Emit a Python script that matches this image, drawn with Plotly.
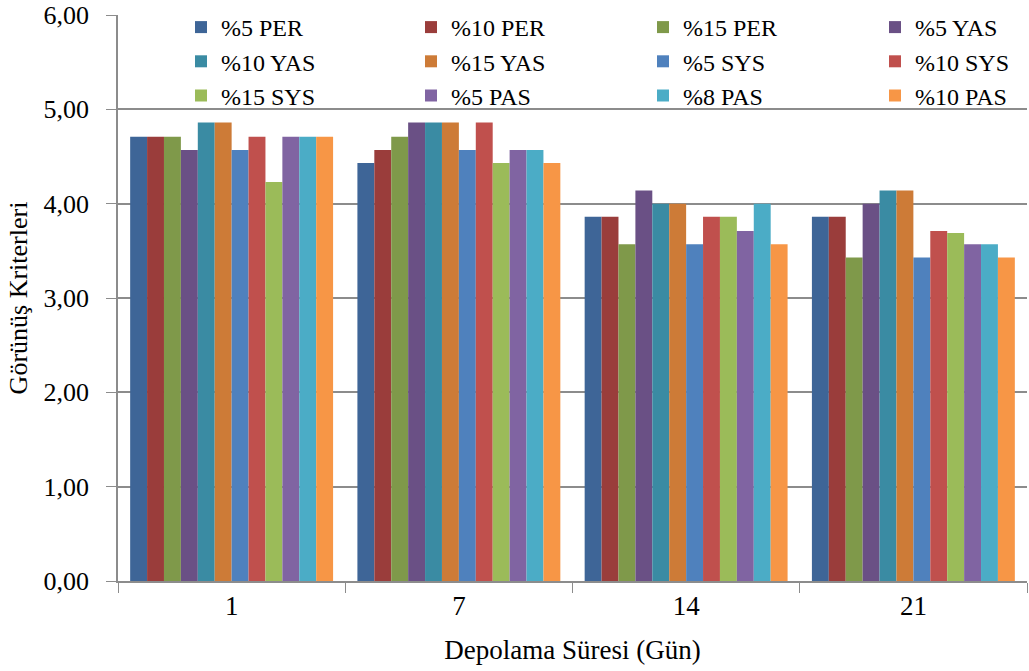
import plotly.graph_objects as go

# Storage days (category axis)
days = ["1", "7", "14", "21"]

# Appearance scores per formulation, one value per storage day
per5 = [4.71, 4.43, 3.86, 3.86]
per10 = [4.71, 4.57, 3.86, 3.86]
per15 = [4.71, 4.71, 3.57, 3.43]
yas5 = [4.57, 4.86, 4.14, 4.00]
yas10 = [4.86, 4.86, 4.00, 4.14]
yas15 = [4.86, 4.86, 4.00, 4.14]
sys5 = [4.57, 4.57, 3.57, 3.43]
sys10 = [4.71, 4.86, 3.86, 3.71]
sys15 = [4.23, 4.43, 3.86, 3.69]
pas5 = [4.71, 4.57, 3.71, 3.57]
pas8 = [4.71, 4.57, 4.00, 3.57]
pas10 = [4.71, 4.43, 3.57, 3.43]

series_names = ["%5 PER", "%10 PER", "%15 PER", "%5 YAS", "%10 YAS", "%15 YAS",
                "%5 SYS", "%10 SYS", "%15 SYS", "%5 PAS", "%8 PAS", "%10 PAS"]
series_values = [per5, per10, per15, yas5, yas10, yas15,
                 sys5, sys10, sys15, pas5, pas8, pas10]
colors = ["#3E6597", "#9A3D3B", "#7F994A", "#6A5085", "#3A8BA3", "#CD7B37",
          "#4F81BD", "#C0504D", "#9BBB59", "#8064A2", "#4BACC6", "#F79646"]

FONT = "Times New Roman, Liberation Serif, serif"
GRID = "#8c8c8c"
W, H = 1029, 671
ML, MR, MT, MB = 0, 2, 0, 90
AXIS_LEFT = 118   # pixel position of the value axis
PLOT_TOP = 15     # pixel position of the top of the value range
LEGEND_COLS = [181, 411, 643, 875]  # left edge of each legend column
N_COLS = len(LEGEND_COLS)

plot_w = W - ML - MR
plot_h = H - MT - MB

fig = go.Figure()
for i, (name, vals, col) in enumerate(zip(series_names, series_values, colors)):
    col_idx = i % N_COLS
    fig.add_trace(go.Bar(
        x=days, y=vals, name=name,
        marker=dict(color=col, line=dict(width=0)),
        legend="legend" if col_idx == 0 else f"legend{col_idx + 1}",
    ))

legend_style = dict(
    orientation="v",
    xanchor="left", yanchor="top",
    y=1 - 5 / plot_h,
    bgcolor="rgba(255,255,255,0)",
    font=dict(family=FONT, size=24),
    tracegroupgap=0,
    traceorder="normal",
)
legends = {}
for k, px in enumerate(LEGEND_COLS):
    key = "legend" if k == 0 else f"legend{k + 1}"
    legends[key] = dict(legend_style, x=(px - ML) / plot_w)

fig.update_layout(
    width=W, height=H,
    barmode="group",
    bargap=0.107,
    bargroupgap=0,
    separators=",.",
    plot_bgcolor="white",
    paper_bgcolor="white",
    font=dict(family=FONT, size=26, color="#000000"),
    margin=dict(l=ML, r=MR, t=MT, b=MB),
    showlegend=True,
    xaxis=dict(
        type="category",
        domain=[(AXIS_LEFT - ML) / plot_w, 1],
        showline=True, linecolor=GRID, linewidth=1.5,
        ticks="outside", tickson="boundaries", ticklen=10, tickcolor=GRID,
        tickfont=dict(family=FONT, size=27),
        title=dict(text="Depolama Süresi (Gün)", font=dict(family=FONT, size=27), standoff=20),
        showgrid=False,
        automargin=False,
    ),
    yaxis=dict(
        domain=[0, 1 - (PLOT_TOP - MT) / plot_h],
        range=[0, 6], dtick=1, tickformat=".2f",
        showline=True, linecolor=GRID, linewidth=1.5,
        ticks="outside", ticklen=10, tickcolor=GRID,
        ticklabelstandoff=12,
        showgrid=True, gridcolor=GRID, gridwidth=1.5,
        zeroline=False,
        tickfont=dict(family=FONT, size=26),
        title=dict(text="Görünüş Kriterleri", font=dict(family=FONT, size=26), standoff=8),
        automargin=False,
    ),
    **legends,
)

fig.write_html("out.html")
